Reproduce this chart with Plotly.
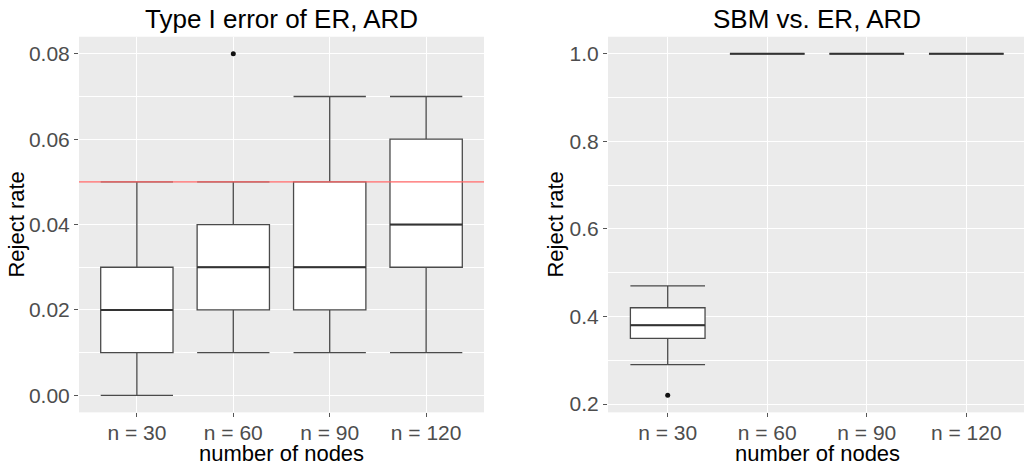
import plotly.graph_objects as go

# ---- data ----
categories = ["n = 30", "n = 60", "n = 90", "n = 120"]
positions = [1, 2, 3, 4]

# Left panel: Type I error of ER, ARD
er_lower = [0.00, 0.01, 0.01, 0.01]
er_q1 = [0.01, 0.02, 0.02, 0.03]
er_median = [0.02, 0.03, 0.03, 0.04]
er_q3 = [0.03, 0.04, 0.05, 0.06]
er_upper = [0.05, 0.05, 0.07, 0.07]
er_out_x = [2]
er_out_y = [0.08]
alpha_level = 0.05

# Right panel: SBM vs. ER, ARD
sbm_lower = [0.29, 1.0, 1.0, 1.0]
sbm_q1 = [0.35, 1.0, 1.0, 1.0]
sbm_median = [0.38, 1.0, 1.0, 1.0]
sbm_q3 = [0.42, 1.0, 1.0, 1.0]
sbm_upper = [0.47, 1.0, 1.0, 1.0]
sbm_out_x = [1]
sbm_out_y = [0.22]

left_yticks = [0.00, 0.02, 0.04, 0.06, 0.08]
left_yticklabels = ["0.00", "0.02", "0.04", "0.06", "0.08"]
right_yticks = [0.2, 0.4, 0.6, 0.8, 1.0]
right_yticklabels = ["0.2", "0.4", "0.6", "0.8", "1.0"]

# ---- style ----
FONT = "Liberation Sans, Arial, sans-serif"
BOX_W = 0.75
LINE_C = "#4a4a4a"
W, H = 1024, 471

fig = go.Figure()


def add_panel(xa, ya, lower, q1, med, q3, upper, ox, oy):
    fig.add_trace(go.Box(
        x=positions, q1=q1, median=med, q3=q3,
        lowerfence=lower, upperfence=upper,
        width=BOX_W, whiskerwidth=1,
        fillcolor="white", line=dict(color=LINE_C, width=1.3),
        boxpoints=False, showlegend=False, hoverinfo="skip",
        xaxis=xa, yaxis=ya,
    ))
    # thicker median line (ggplot style)
    mx, my = [], []
    for p, m in zip(positions, med):
        mx += [p - BOX_W / 2, p + BOX_W / 2, None]
        my += [m, m, None]
    fig.add_trace(go.Scatter(x=mx, y=my, mode="lines",
                             line=dict(color="#333333", width=2),
                             showlegend=False, hoverinfo="skip",
                             xaxis=xa, yaxis=ya))
    fig.add_trace(go.Scatter(x=ox, y=oy, mode="markers",
                             marker=dict(color="#111111", size=5),
                             showlegend=False, hoverinfo="skip",
                             xaxis=xa, yaxis=ya))


add_panel("x", "y", er_lower, er_q1, er_median, er_q3, er_upper, er_out_x, er_out_y)
add_panel("x2", "y2", sbm_lower, sbm_q1, sbm_median, sbm_q3, sbm_upper, sbm_out_x, sbm_out_y)

# red reference line across the whole left panel
fig.add_trace(go.Scatter(x=[0.4, 4.6], y=[alpha_level, alpha_level], mode="lines",
                         line=dict(color="#ff6666", width=1.2),
                         showlegend=False, hoverinfo="skip", xaxis="x", yaxis="y"))

left_dom = [79 / W, 484 / W]
right_dom = [608 / W, 1.0]
y_dom = [1 - 415 / H, 1 - 37 / H]

xcommon = dict(
    tickvals=positions, ticktext=categories,
    showgrid=True, gridcolor="white", gridwidth=1.2,
    ticks="outside", ticklen=4, tickcolor="#555555", tickwidth=1,
    tickfont=dict(family=FONT, size=21, color="#4d4d4d"),
    ticklabelstandoff=-3,
    zeroline=False, showline=False,
)
ycommon = dict(
    showgrid=True, gridcolor="white", gridwidth=1.2,
    ticks="outside", ticklen=4, tickcolor="#555555", tickwidth=1,
    tickfont=dict(family=FONT, size=21, color="#4d4d4d"),
    zeroline=False, showline=False,
)

fig.update_layout(
    width=W, height=H,
    margin=dict(l=0, r=0, t=0, b=0),
    paper_bgcolor="white", plot_bgcolor="#ebebeb",
    xaxis=dict(domain=left_dom, anchor="y", range=[0.4, 4.6], **xcommon),
    yaxis=dict(domain=y_dom, anchor="x", range=[-0.004, 0.084],
               tickvals=left_yticks, ticktext=left_yticklabels,
               minor=dict(dtick=0.01, tick0=0, showgrid=True, gridcolor="white", gridwidth=0.6, ticks=""),
               **ycommon),
    xaxis2=dict(domain=right_dom, anchor="y2", range=[0.4, 4.6 - 2 / 99.5], **xcommon),
    yaxis2=dict(domain=y_dom, anchor="x2", range=[0.181, 1.039],
                tickvals=right_yticks, ticktext=right_yticklabels,
                minor=dict(dtick=0.1, tick0=0, showgrid=True, gridcolor="white", gridwidth=0.6, ticks=""),
                **ycommon),
)

anns = [
    dict(text="Type I error of ER, ARD", x=(left_dom[0] + left_dom[1]) / 2, y=1 - 19 / H,
         font=dict(size=26, color="black")),
    dict(text="SBM vs. ER, ARD", x=817 / W, y=1 - 19 / H,
         font=dict(size=26, color="black")),
    dict(text="number of nodes", x=(left_dom[0] + left_dom[1]) / 2, y=1 - 456 / H,
         font=dict(size=22, color="black")),
    dict(text="number of nodes", x=817 / W, y=1 - 456 / H,
         font=dict(size=22, color="black")),
    dict(text="Reject rate", x=17 / W, y=(y_dom[0] + y_dom[1]) / 2, textangle=-90,
         font=dict(size=22, color="black")),
    dict(text="Reject rate", x=556 / W, y=(y_dom[0] + y_dom[1]) / 2, textangle=-90,
         font=dict(size=22, color="black")),
]
for a in anns:
    a["font"]["family"] = FONT
    fig.add_annotation(xref="paper", yref="paper", showarrow=False,
                       xanchor="center", yanchor="middle", **a)

fig.write_html("out.html")
